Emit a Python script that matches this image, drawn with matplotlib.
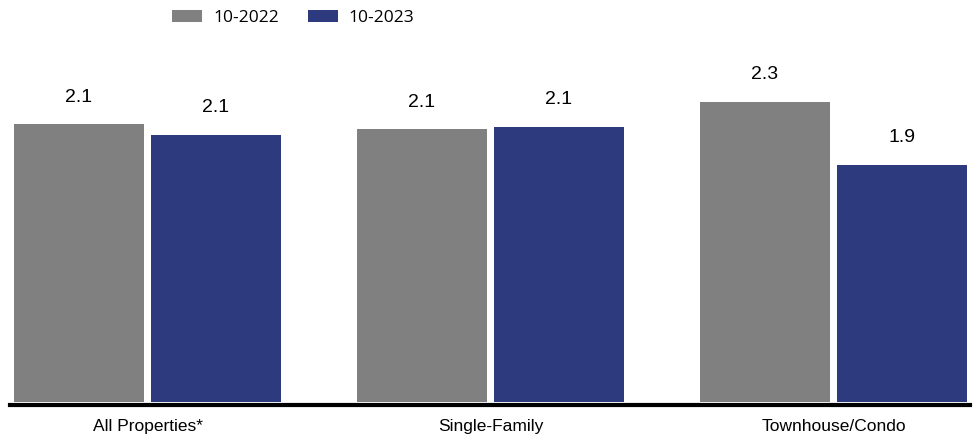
import numpy as np
import matplotlib.pyplot as plt

categories = ["All Properties*", "Single-Family", "Townhouse/Condo"]
series_names = ["10-2022", "10-2023"]
values_2022 = [2.13, 2.09, 2.30]
values_2023 = [2.05, 2.11, 1.82]
labels_2022 = ["2.1", "2.1", "2.3"]
labels_2023 = ["2.1", "2.1", "1.9"]

colors = ["#808080", "#2D3A7E"]

fig = plt.figure(figsize=(9.74, 4.37), dpi=100)
ax = fig.add_axes([10 / 974, 32 / 437, 960 / 974, 360 / 437])

x = np.arange(len(categories))
w = 0.379
off = 0.1997

b1 = ax.bar(x - off, values_2022, w, color=colors[0], label=series_names[0])
b2 = ax.bar(x + off, values_2023, w, color=colors[1], label=series_names[1])

for bars, labs in ((b1, labels_2022), (b2, labels_2023)):
    for r, t in zip(bars, labs):
        ax.annotate(t, (r.get_x() + r.get_width() / 2, r.get_height()),
                    xytext=(0, 19.5), textcoords="offset points",
                    ha="center", va="center", fontsize=14,
                    family="Liberation Sans", color="black")

ax.set_xlim(-0.401, 2.398)
ax.set_ylim(-3 / 130.4, 357 / 130.4)
ax.set_xticks(x)
ax.set_xticklabels(categories, family="Liberation Sans", fontsize=12.5)
ax.tick_params(axis="x", length=0, pad=10)
ax.set_yticks([])
for s in ["top", "right", "left"]:
    ax.spines[s].set_visible(False)
ax.spines["bottom"].set_linewidth(3)
ax.spines["bottom"].set_color("black")

fig.legend(loc="center left", bbox_to_anchor=(172 / 974, 1 - 18 / 437),
           ncol=2, frameon=False, borderpad=0, borderaxespad=0,
           handlelength=1.73, handleheight=0.7, handletextpad=0.63,
           columnspacing=1.67, prop={"family": "Open Sans", "size": 12.5})

fig.savefig("out.png", dpi=100)
